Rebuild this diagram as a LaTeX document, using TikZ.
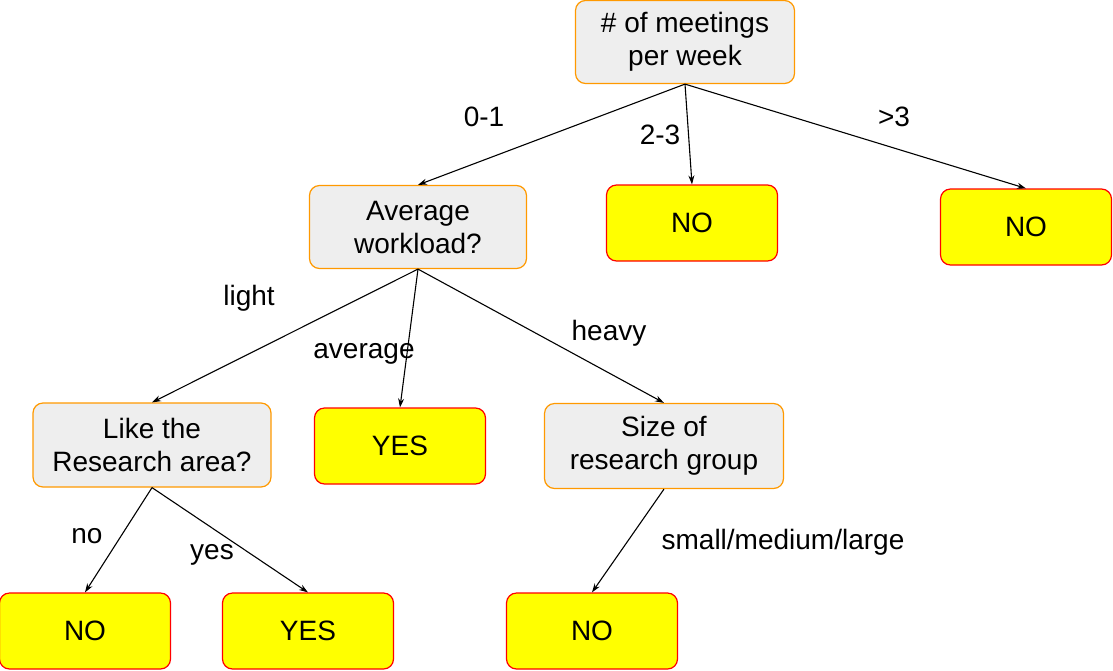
\documentclass[tikz,border=0pt]{standalone}
\usepackage{fontspec}
\setmainfont{Liberation Sans}
\usetikzlibrary{arrows.meta}
\definecolor{qgray}{HTML}{EEEEEE}
\definecolor{qorange}{HTML}{FF9900}
\definecolor{ayellow}{HTML}{FFFF00}
\definecolor{ared}{HTML}{FF0000}
\begin{document}
\begin{tikzpicture}[x=1pt, y=-1pt, every node/.style={align=center, font=\fontsize{28}{33}\selectfont},
    question/.style={rectangle, rounded corners=10pt, draw=qorange, fill=qgray, line width=1.2pt, minimum width=217pt, minimum height=83pt},
    answer/.style={rectangle, rounded corners=10pt, draw=ared, fill=ayellow, line width=1.2pt, minimum width=171pt, minimum height=76pt},
    edgelabel/.style={font=\fontsize{28}{33}\selectfont},
    branch/.style={-{Stealth[length=9pt,width=6pt]}, line width=1.1pt}]
				\useasboundingbox (0,0) rectangle (1113,670);
				% Nodes
				\node (meetings) [question, minimum width=219pt] at (685,42) {\# of meetings\\per week};
				\node (workload) [question] at (418,227) {Average\\workload?};
				\node (noA) [answer] at (692,223) {NO};
				\node (noB) [answer] at (1026,227) {NO};
				\node (area) [question, minimum width=238pt, minimum height=84pt] at (152,445) {Like the\\Research area?};
				\node (yesA) [answer] at (400,446) {YES};
				\node (group) [question, minimum width=239pt, minimum height=85pt] at (664,446) {Size of\\research group};
				\node (noC) [answer] at (85,631) {NO};
				\node (yesB) [answer] at (308,631) {YES};
				\node (noD) [answer] at (592,631) {NO};

				% Labels
				\node (l01) [edgelabel] at (484,117) {0-1};
				\node (l23) [edgelabel] at (660,135) {2-3};
				\node (lgt3) [edgelabel] at (894,117) {>3};
				\node (llight) [edgelabel] at (249,298) {light};
				\node (laverage) [edgelabel] at (364,354) {average};
				\node (lheavy) [edgelabel] at (609,333) {heavy};
				\node (lno) [edgelabel] at (87,536) {no};
				\node (lyes) [edgelabel] at (212,555) {yes};
				\node (lsize) [edgelabel] at (783,542) {small/medium/large};

				% Arrows
				\draw[branch] (meetings.south) -- (workload.north);
				\draw[branch] (meetings.south) -- (noA.north);
				\draw[branch] (meetings.south) -- (noB.north);
				\draw[branch] (workload.south) -- (area.north);
				\draw[branch] (workload.south) -- (yesA.north);
				\draw[branch] (workload.south) -- (group.north);
				\draw[branch] (area.south) -- (noC.north);
				\draw[branch] (area.south) -- (yesB.north);
				\draw[branch] (group.south) -- (noD.north);
			\end{tikzpicture}
\end{document}
